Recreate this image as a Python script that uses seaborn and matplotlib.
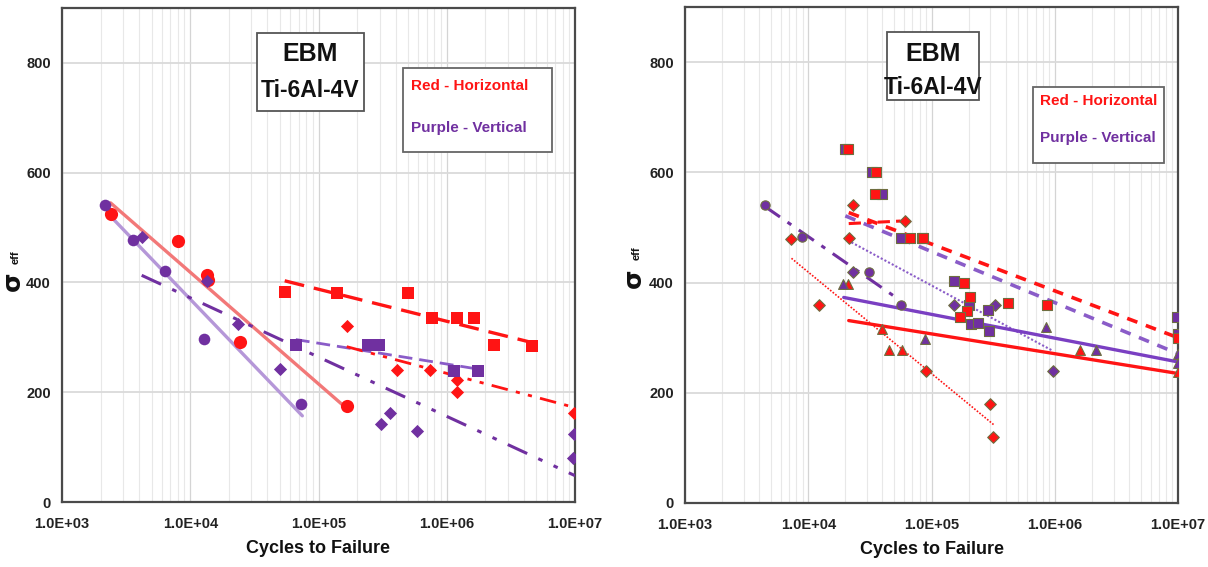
import numpy as np
import pandas as pd
import matplotlib.pyplot as plt
import seaborn as sns
from matplotlib.patches import Rectangle
from matplotlib.ticker import MultipleLocator, LogLocator, NullFormatter

sns.set_theme(style='white')
plt.rcParams['font.family'] = ['Liberation Sans', 'DejaVu Sans']
plt.rcParams['font.weight'] = 'bold'

RED = '#ff1414'
PURPLE = '#7030a0'
LIGHT_RED = '#f27878'
LIGHT_PURPLE = '#b597d8'
MID_PURPLE = '#8a5cc8'
EDGE = '#6e6e40'

# ---------------- left panel: points (cycles, sigma_eff) ----------------
L_red_circ_n = [2390, 8070, 13500, 13800, 24500, 166000]
L_red_circ_s = [524, 475, 413, 405, 291, 174]
L_pur_circ_n = [2165, 3565, 6300, 12800, 72800]
L_pur_circ_s = [542, 478, 420, 297, 178]
L_pur_dia_n = [4240, 13400, 23700, 49900, 308000, 358000, 591000, 9800000, 9700000]
L_pur_dia_s = [483, 402, 324, 243, 143, 162, 130, 124, 81]
L_red_sq_n = [54500, 139000, 501000, 763000, 1208000, 1625000, 2323000, 4620000]
L_red_sq_s = [383, 381, 381, 336, 336, 336, 286, 285]
L_red_dia_n = [166000, 408000, 738000, 1195000, 1195000, 9800000]
L_red_dia_s = [321, 240, 240, 222, 200, 162]
L_pur_sq_n = [66500, 244000, 298000, 1130000, 1766000]
L_pur_sq_s = [286, 286, 286, 238, 238]

# left panel fit lines (end points)
L_fit_red_circ = ([2390, 154000], [545, 177])
L_fit_pur_circ = ([2250, 74800], [527, 157])
L_fit_pur_dia = ([4180, 1e7], [413, 48])
L_fit_red_sq = ([54500, 4900000], [403, 289])
L_fit_pur_sq = ([66500, 1766000], [296, 242])
L_fit_red_dia = ([166000, 1e7], [283, 172])

# ---------------- right panel: points ----------------
R_red_dia_n = [7310, 12300, 21300, 23200, 60400, 89800, 301000, 318000]
R_red_dia_s = [479, 360, 480, 540, 511, 239, 179, 119]
R_pur_circ_n = [4450, 8830, 31200, 57000]
R_pur_circ_s = [541, 482, 420, 360]
R_pur_dia_n = [23200, 153000, 325000, 961000]
R_pur_dia_s = [420, 360, 360, 239]
R_red_sq_n = [21000, 35500, 34900, 67200, 85900, 185000, 204000, 194000, 171000, 419000, 862000, 1e7]
R_red_sq_s = [642, 600, 561, 480, 480, 400, 373, 349, 338, 362, 360, 300]
R_pur_sq_n = [20000, 32900, 39600, 57000, 83000, 153000, 200000, 290000, 208000, 237000, 292000, 9800000, 1e7]
R_pur_sq_s = [642, 600, 561, 480, 480, 402, 360, 350, 324, 326, 313, 338, 307]
R_red_tri_n = [20900, 39400, 44900, 57900, 1607000, 1e7]
R_red_tri_s = [398, 316, 277, 277, 278, 237]
R_pur_tri_n = [19100, 88500, 850000, 2148000, 1e7, 1e7]
R_pur_tri_s = [398, 298, 319, 278, 271, 254]

# right panel fit lines
R_fit_pur_circ = ([4450, 54600], [538, 369])
R_fit_red_dot = ([7310, 320000], [444, 142])
R_fit_pur_dot = ([22400, 948000], [473, 277])
R_fit_red_dash = ([21300, 1e7], [527, 300])
R_fit_pur_dash = ([20000, 1e7], [521, 271])
R_fit_red_dd = ([21300, 60900], [507, 512])
R_fit_pur_solid = ([19400, 1e7], [373, 256])
R_fit_red_solid = ([21300, 1e7], [331, 235])

x_ticks = [1e3, 1e4, 1e5, 1e6, 1e7]
x_labels = ['1.0E+03', '1.0E+04', '1.0E+05', '1.0E+06', '1.0E+07']
y_ticks = [0, 200, 400, 600, 800]

W, H = 1208, 567
fig = plt.figure(figsize=(W / 100, H / 100), dpi=100)
axL = fig.add_axes([62 / W, 1 - 502 / H, 513 / W, 494 / H])
axR = fig.add_axes([685 / W, 1 - 503 / H, 493 / W, 496 / H])


def style_axes(ax):
    ax.set_xscale('log')
    ax.set_xlim(1e3, 1e7)
    ax.set_ylim(0, 900)
    ax.set_xticks(x_ticks)
    ax.set_xticklabels(x_labels)
    ax.xaxis.set_minor_locator(LogLocator(base=10, subs=np.arange(2, 10)))
    ax.xaxis.set_minor_formatter(NullFormatter())
    ax.set_yticks(y_ticks)
    ax.yaxis.set_minor_locator(MultipleLocator(40))
    ax.grid(which='major', axis='x', color='#d4d4d4', lw=0.9)
    ax.grid(which='minor', axis='x', color='#e8e8e8', lw=0.8)
    ax.grid(which='major', axis='y', color='#dadada', lw=1.3)
    for sp in ax.spines.values():
        sp.set_color('#4a4a4a')
        sp.set_linewidth(1.6)
    ax.tick_params(axis='x', which='major', labelsize=10.5, colors='#222222',
                   length=4, width=1, direction='inout', pad=9)
    ax.tick_params(axis='y', which='major', labelsize=10.5, colors='#222222',
                   length=4, width=1, direction='inout', pad=6)
    ax.tick_params(axis='both', which='minor', length=4, width=0.8,
                   color='#777777', direction='inout')
    for lab in ax.get_xticklabels() + ax.get_yticklabels():
        lab.set_fontweight('bold')
    ax.set_xlabel('Cycles to Failure', fontsize=13, fontweight='bold',
                  color='#111111', labelpad=6)
    ax.set_ylabel('')
    ax.set_axisbelow(True)


def fit(ax, pts, color, lw, ls):
    sns.lineplot(x=pts[0], y=pts[1], color=color, linewidth=lw, linestyle=ls,
                 ax=ax, zorder=3)


def pts(ax, n, s, marker, color, size, edge=None):
    sns.scatterplot(x=n, y=s, marker=marker, color=color, s=size,
                    edgecolor=edge if edge else color, linewidth=0.8 if edge else 0,
                    ax=ax, zorder=4)


def boxes(ax, ebm_box, ebm_y, leg_box, leg_x, leg_y):
    x0, x1, y0, y1 = ebm_box
    ax.add_patch(Rectangle((x0, y0), x1 - x0, y1 - y0, transform=ax.transAxes,
                           fc='white', ec='#555555', lw=1.3, zorder=6))
    cx = (x0 + x1) / 2
    ax.text(cx, ebm_y[0], 'EBM', transform=ax.transAxes, ha='center', va='center',
            fontsize=18, fontweight='bold', color='#111111', zorder=7)
    ax.text(cx, ebm_y[1], 'Ti-6Al-4V', transform=ax.transAxes, ha='center', va='center',
            fontsize=16.5, fontweight='bold', color='#111111', zorder=7)
    x0, x1, y0, y1 = leg_box
    ax.add_patch(Rectangle((x0, y0), x1 - x0, y1 - y0, transform=ax.transAxes,
                           fc='white', ec='#666666', lw=1.3, zorder=6))
    ax.text(leg_x, leg_y[0], 'Red - Horizontal', transform=ax.transAxes, ha='left',
            va='center', fontsize=11, fontweight='bold', color=RED, zorder=7)
    ax.text(leg_x, leg_y[1], 'Purple - Vertical', transform=ax.transAxes, ha='left',
            va='center', fontsize=11, fontweight='bold', color=PURPLE, zorder=7)


# ---------------- left panel ----------------
style_axes(axL)
fit(axL, L_fit_red_circ, LIGHT_RED, 2.4, '-')
fit(axL, L_fit_pur_circ, LIGHT_PURPLE, 2.4, '-')
fit(axL, L_fit_pur_dia, PURPLE, 2.2, (0, (7, 4, 1.5, 4, 1.5, 4)))
fit(axL, L_fit_red_sq, RED, 2.4, (0, (6, 3)))
fit(axL, L_fit_pur_sq, MID_PURPLE, 2.0, (0, (5, 2.5)))
fit(axL, L_fit_red_dia, RED, 2.0, (0, (6, 3, 1.5, 3, 1.5, 3)))
pts(axL, L_red_circ_n, L_red_circ_s, 'o', RED, 90)
pts(axL, L_pur_circ_n, L_pur_circ_s, 'o', PURPLE, 70)
pts(axL, L_pur_dia_n, L_pur_dia_s, 'D', PURPLE, 45)
pts(axL, L_red_sq_n, L_red_sq_s, 's', RED, 75)
pts(axL, L_red_dia_n, L_red_dia_s, 'D', RED, 45)
pts(axL, L_pur_sq_n, L_pur_sq_s, 's', PURPLE, 75)
boxes(axL, (0.380, 0.589, 0.791, 0.949), (0.906, 0.832),
      (0.665, 0.955, 0.709, 0.879), 0.680, (0.842, 0.757))

# ---------------- right panel ----------------
style_axes(axR)
fit(axR, R_fit_pur_circ, PURPLE, 2.2, (0, (6, 3, 1.5, 3)))
fit(axR, R_fit_red_dot, RED, 1.2, (0, (1, 1)))
fit(axR, R_fit_pur_dot, MID_PURPLE, 1.5, (0, (1, 1)))
fit(axR, R_fit_red_dash, RED, 2.6, (0, (3, 2.5)))
fit(axR, R_fit_pur_dash, MID_PURPLE, 2.6, (0, (3, 2.5)))
fit(axR, R_fit_red_dd, RED, 2.2, (0, (4, 2, 1.5, 2)))
fit(axR, R_fit_pur_solid, '#7a3fc2', 2.4, '-')
fit(axR, R_fit_red_solid, RED, 2.4, '-')
pts(axR, R_red_dia_n, R_red_dia_s, 'D', RED, 35, EDGE)
pts(axR, R_pur_circ_n, R_pur_circ_s, 'o', PURPLE, 45, EDGE)
pts(axR, R_pur_dia_n, R_pur_dia_s, 'D', PURPLE, 35, EDGE)
pts(axR, R_pur_sq_n, R_pur_sq_s, 's', PURPLE, 55, EDGE)
pts(axR, R_red_sq_n, R_red_sq_s, 's', RED, 55, EDGE)
pts(axR, R_red_tri_n, R_red_tri_s, '^', RED, 50, EDGE)
pts(axR, R_pur_tri_n, R_pur_tri_s, '^', PURPLE, 50, EDGE)
boxes(axR, (0.410, 0.596, 0.8125, 0.9486), (0.905, 0.838),
      (0.706, 0.972, 0.685, 0.839), 0.720, (0.810, 0.736))

# y-axis labels: sigma with "eff" subscript, rotated
for sx, sy, ex, ey in [(13, 281, 16, 257), (634, 278, 637, 253)]:
    fig.text(sx / W, 1 - sy / H, 'σ', rotation=90, ha='center', va='center',
             fontsize=18, fontweight='bold', color='#111111',
             family=['DejaVu Sans'])
    fig.text(ex / W, 1 - ey / H, 'eff', rotation=90, ha='center', va='center',
             fontsize=8, fontweight='bold', color='#111111')

fig.savefig('out.png', dpi=100, facecolor='white')
